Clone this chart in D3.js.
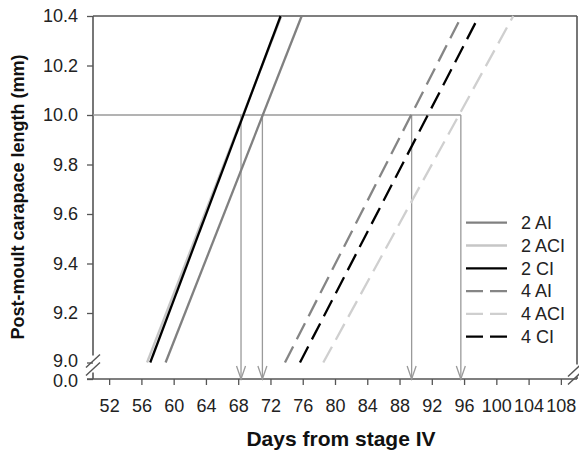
<!DOCTYPE html>
<html>
<head>
<meta charset="utf-8">
<script src="https://cdn.jsdelivr.net/npm/d3@7"></script>
<style>
  html, body { margin: 0; padding: 0; background: #fff; }
  svg { display: block; font-family: "Liberation Sans", Arial, Helvetica, sans-serif; }
</style>
</head>
<body>
<svg id="chart" width="579" height="453"></svg>
<script>
// ---- data ----
const seriesNames = ["2 AI", "2 ACI", "2 CI", "4 AI", "4 ACI", "4 CI"];
const dayAt9_0 = [59.0, 56.7, 57.1, 73.8, 78.55, 75.66];   // day where length = 9.0 mm
const dayAt10_4 = [75.87, 73.35, 73.26, 95.7, 102.1, 97.85]; // day where length = 10.4 mm
const lengthStart = 9.0;
const lengthEnd = 10.4;
const refLength = 10.0;
const arrowDays = [68.35, 71.0, 89.5, 95.6];
const xTicks = [52, 56, 60, 64, 68, 72, 76, 80, 84, 88, 92, 96, 100, 104, 108];
const yTicks = [0.0, 9.0, 9.2, 9.4, 9.6, 9.8, 10.0, 10.2, 10.4];

// ---- styles ----
const colors = ["#808080", "#c6c6c6", "#000000", "#858585", "#cfcfcf", "#000000"];
const dashes = [null, null, null, "18,8", "18,8", "18,8"];

const svg = d3.select("#chart");
const pLeft = 93, pRight = 577, pTop = 16, pBottom = 379;

const x = d3.scaleLinear().domain([50, 110]).range([pLeft, pRight]);
const y = d3.scaleLinear().domain([0, 9.0, 10.4]).range([pBottom, 362.5, pTop]);

const axisColor = "#555";

// X axis
const xAxis = svg.append("g")
  .attr("transform", `translate(0,${pBottom})`)
  .call(d3.axisBottom(x).tickValues(xTicks).tickSize(6).tickPadding(14).tickFormat(d3.format("d")));
xAxis.select(".domain").remove();
xAxis.selectAll(".tick line").attr("stroke", axisColor).attr("stroke-width", 1.3);
xAxis.selectAll("text").attr("font-size", 18).attr("fill", "#222");

// Y axis
const yAxis = svg.append("g")
  .attr("transform", `translate(${pLeft},0)`)
  .call(d3.axisLeft(y).tickValues(yTicks).tickSize(6).tickPadding(9).tickFormat(d3.format(".1f")));
yAxis.select(".domain").remove();
yAxis.selectAll(".tick line").attr("stroke", axisColor).attr("stroke-width", 1.3);
yAxis.selectAll("text").attr("font-size", 18).attr("fill", "#222")
  .attr("dy", d => d === 0 ? "0.43em" : (d === 9.0 ? "0.21em" : "0.32em"));

// frame with broken axes
const frame = svg.append("g").attr("stroke", axisColor).attr("stroke-width", 1.6).attr("fill", "none");
const y9 = y(9.0);
frame.append("line").attr("x1", pLeft - 6).attr("x2", pRight).attr("y1", pBottom).attr("y2", pBottom);
frame.append("line").attr("x1", pLeft).attr("x2", pRight).attr("y1", pTop).attr("y2", pTop);
frame.append("line").attr("x1", pLeft).attr("x2", pLeft).attr("y1", pTop).attr("y2", y9 - 7);
frame.append("line").attr("x1", pLeft).attr("x2", pLeft).attr("y1", y9 + 10).attr("y2", pBottom);
frame.append("line").attr("x1", pRight).attr("x2", pRight).attr("y1", pTop).attr("y2", y9 + 2);
frame.append("line").attr("x1", pRight).attr("x2", pRight).attr("y1", y9 + 14).attr("y2", pBottom);
function breakMarks(cx, cy) {
  [0, 8].forEach(off => {
    frame.append("line")
      .attr("x1", cx - 7).attr("y1", cy + 6 + off)
      .attr("x2", cx + 7).attr("y2", cy - 7 + off)
      .attr("stroke-width", 1.4);
  });
}
breakMarks(pLeft, y9 - 1);
breakMarks(pRight - 2, y9 + 8);

// reference lines
const ref = svg.append("g").attr("stroke", "#9a9a9a").attr("stroke-width", 1.3).attr("fill", "none");
ref.append("line")
  .attr("x1", pLeft).attr("x2", x(d3.max(arrowDays)))
  .attr("y1", y(refLength)).attr("y2", y(refLength));
arrowDays.forEach(d => {
  const ax = x(d);
  ref.append("line").attr("x1", ax).attr("x2", ax).attr("y1", y(refLength)).attr("y2", pBottom);
  ref.append("path").attr("d", `M${ax - 4.5},${pBottom - 13} L${ax},${pBottom} L${ax + 4.5},${pBottom - 13}`);
});

// series lines
const lineGen = d3.line().x(d => x(d[0])).y(d => y(d[1]));
seriesNames.forEach((name, i) => {
  svg.append("path")
    .datum([[dayAt9_0[i], lengthStart], [dayAt10_4[i], lengthEnd]])
    .attr("d", lineGen)
    .attr("fill", "none")
    .attr("stroke", colors[i])
    .attr("stroke-width", 2.3)
    .attr("stroke-dasharray", dashes[i]);
});

// legend
const legend = svg.append("g");
seriesNames.forEach((name, i) => {
  const ly = 222.7 + i * 22.8;
  legend.append("line")
    .attr("x1", 466).attr("x2", 507).attr("y1", ly).attr("y2", ly)
    .attr("stroke", colors[i]).attr("stroke-width", 2.3)
    .attr("stroke-dasharray", dashes[i] ? "17,7" : null);
  legend.append("text")
    .attr("x", 521).attr("y", ly).attr("dy", "0.35em")
    .attr("font-size", 18).attr("fill", "#222")
    .text(name);
});

// axis titles
svg.append("text")
  .attr("x", 341).attr("y", 446)
  .attr("text-anchor", "middle")
  .attr("font-size", 21).attr("font-weight", "bold").attr("fill", "#111")
  .text("Days from stage IV");
svg.append("text")
  .attr("transform", "translate(24,197) rotate(-90)")
  .attr("text-anchor", "middle")
  .attr("font-size", 18).attr("font-weight", "bold").attr("fill", "#111")
  .text("Post-moult carapace length (mm)");
</script>
</body>
</html>
